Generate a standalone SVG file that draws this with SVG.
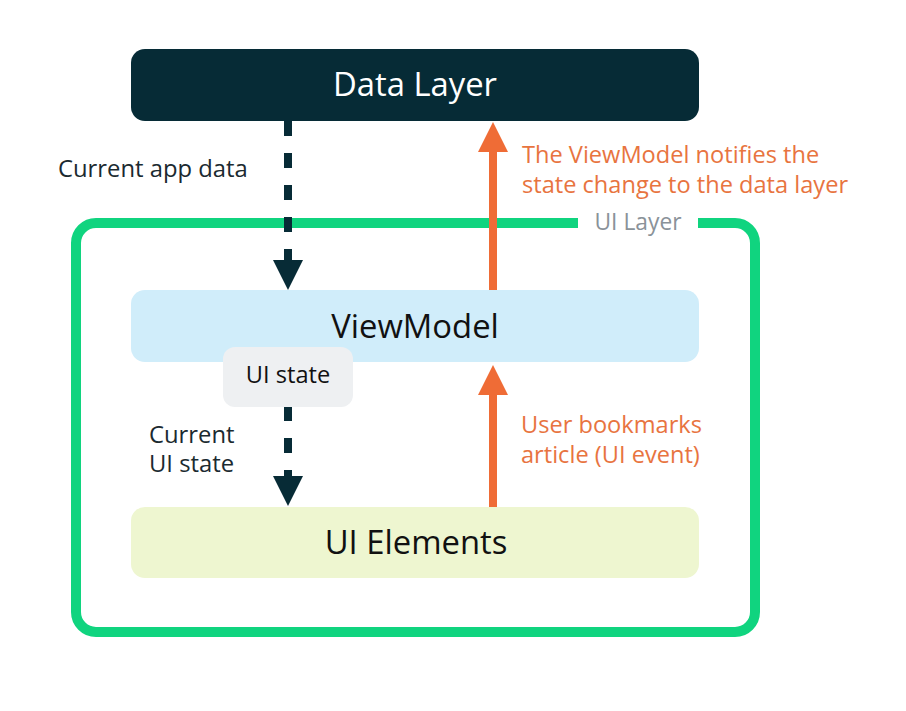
<svg xmlns="http://www.w3.org/2000/svg" width="906" height="711" viewBox="0 0 906 711">
<style>
text{font-family:"Open Sans",Roboto,"Liberation Sans",Arial,sans-serif}
.big{font-size:32.8px;text-anchor:middle}
.lbl{font-size:23.8px;fill:#1b2a30}
.org{font-size:23.6px;fill:#e8743f}
.dash{stroke:#072b36;stroke-width:8;stroke-dasharray:15 17;fill:none}
.solid{stroke:#ef6c36;stroke-width:8;fill:none}
</style>
<defs>
<marker id="ad" viewBox="0 0 30 30" markerWidth="30" markerHeight="30" markerUnits="userSpaceOnUse" refX="0" refY="15" orient="auto"><path d="M0,0 L30,15 L0,30 z" fill="#072b36"/></marker>
<marker id="ao" viewBox="0 0 30 30" markerWidth="30" markerHeight="30" markerUnits="userSpaceOnUse" refX="0" refY="15" orient="auto"><path d="M0,0 L30,15 L0,30 z" fill="#ef6c36"/></marker>
</defs>
<rect width="906" height="711" fill="#ffffff"/>
<g id="ui-layer">
<path d="M578,223 H96 A20,20 0 0 0 76,243 V612 A20,20 0 0 0 96,632 H735 A20,20 0 0 0 755,612 V243 A20,20 0 0 0 735,223 H698" fill="none" stroke="#10d47f" stroke-width="10"/>
<text x="638" y="230" font-size="22.8" fill="#8a9299" text-anchor="middle">UI Layer</text>
</g>
<g id="connectors">
<line class="dash" x1="288" y1="121" x2="288" y2="260" marker-end="url(#ad)"/>
<line class="dash" x1="288" y1="406" x2="288" y2="476" marker-end="url(#ad)"/>
<line class="solid" x1="493" y1="290" x2="493" y2="152" marker-end="url(#ao)"/>
<line class="solid" x1="493" y1="507" x2="493" y2="395" marker-end="url(#ao)"/>
<text class="lbl" x="58" y="177">Current app data</text>
<text class="lbl" x="149" y="443">Current<tspan x="149" dy="29">UI state</tspan></text>
<text class="org" x="522" y="162.5">The ViewModel notifies the<tspan x="522" dy="30">state change to the data layer</tspan></text>
<text class="org" x="521" y="432.5">User bookmarks<tspan x="521" dy="30">article (UI event)</tspan></text>
</g>
<g id="data-layer">
<rect x="131" y="49" width="568" height="72" rx="14" fill="#062b36"/>
<text class="big" x="415" y="96" fill="#ffffff" font-size="33.5">Data Layer</text>
</g>
<g id="viewmodel">
<rect x="131" y="290" width="568" height="72" rx="14" fill="#d0edfa"/>
<text class="big" x="415" y="338" fill="#111111">ViewModel</text>
</g>
<g id="ui-state">
<rect x="223" y="347" width="130" height="60" rx="12" fill="#eef0f2"/>
<text x="288" y="383" font-size="23.6" fill="#111111" text-anchor="middle">UI state</text>
</g>
<g id="ui-elements">
<rect x="131" y="507" width="568" height="71" rx="14" fill="#eef6d0"/>
<text class="big" x="416" y="554" fill="#111111" font-size="32.3">UI Elements</text>
</g>
</svg>
